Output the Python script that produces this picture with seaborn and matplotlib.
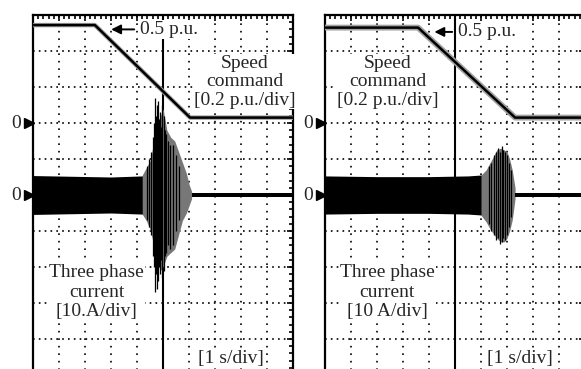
import numpy as np
import pandas as pd
import matplotlib
matplotlib.use('Agg')
import matplotlib.pyplot as plt
from matplotlib.ticker import MultipleLocator
import seaborn as sns

# speed command traces, time in s, speed in p.u.
left_speed_t = [0, 2.38, 6.04, 10]
left_speed = [0.544, 0.544, 0.03, 0.03]
right_speed_t = [0, 3.58, 7.31, 10]
right_speed = [0.53, 0.53, 0.03, 0.03]

# three phase current, steady envelope (A)
left_steady_t = [0, 1.5, 3.0, 4.2, 4.3]
left_steady_amp = [5.4, 5.2, 5.0, 5.3, 5.6]
right_steady_t = [0, 2.0, 4.0, 5.5, 6.1]
right_steady_amp = [5.3, 5.1, 5.1, 5.3, 5.6]

# current burst envelope while decelerating (A)
left_burst_t = [4.2, 4.35, 4.5, 4.6, 4.75, 4.9, 5.0, 5.15, 5.3, 5.45, 5.6, 5.75, 5.9, 6.0, 6.1]
left_burst_hi = [5.5, 7.5, 9.5, 13, 19, 22, 24, 18, 16, 15, 12, 9, 6, 3, 1]
left_burst_lo = [-5.3, -7, -9.5, -12.5, -18, -21, -20, -17, -16, -15, -11, -7, -5, -3, -1]
right_burst_t = [6.0, 6.2, 6.35, 6.5, 6.6, 6.75, 6.9, 7.0, 7.1, 7.2, 7.31]
right_burst_hi = [5.5, 7, 9, 11, 12.5, 13, 12.5, 12, 10, 7, 2]
right_burst_lo = [-5.6, -7.5, -9.5, -11, -12, -13, -13, -12, -10, -7, -1]

# individual current spikes (A)
left_spike_t = [4.4, 4.48, 4.55, 4.6, 4.65, 4.7, 4.74, 4.78, 4.82, 4.86, 4.9,
                4.94, 4.98, 5.02, 5.06, 5.12, 5.2, 5.28, 5.38, 5.5, 5.62]
left_spike_hi = [8, 10, 12, 16, 20, 27, 22, 25, 26, 21, 23,
                 19, 25, 22, 18, 17, 15, 14, 14, 11, 8]
left_spike_lo = [-7, -9, -11, -17, -20, -27, -22, -26, -24, -20, -22,
                 -18, -23, -21, -17, -16, -14, -15, -14, -10, -7]
right_spike_t = [6.3, 6.4, 6.5, 6.58, 6.66, 6.72, 6.8, 6.86, 6.93, 7.0, 7.08, 7.15]
right_spike_hi = [8, 9, 11, 12, 13, 12, 13.5, 12.5, 12, 11, 9, 7]
right_spike_lo = [-8, -10, -11, -12.5, -12, -13.5, -13, -12, -12.5, -11, -9, -6]

current_label = ["Three phase\ncurrent\n[10.A/div]", "Three phase\ncurrent\n[10 A/div]"]

sns.set_style('white')
plt.rcParams['font.family'] = ['Liberation Serif', 'DejaVu Serif']
plt.rcParams['font.size'] = 14

fig = plt.figure(figsize=(5.81, 3.69), dpi=100)
W, H = 581, 369
FS = 14


def panel_axes(x0):
    return fig.add_axes([x0 / W, 1 - 375 / H, 260 / W, 360 / H])


def speed_div(v):
    return 7 + np.asarray(v) / 0.2


def cur_div(v):
    return 5 + np.asarray(v) / 10


def draw_panel(ax, sp_t, sp, st_t, st_amp, b_t, b_hi, b_lo, s_t, s_hi, s_lo,
               noise, arrow_x, speed_xy, cur_xy, cur_text):
    ax.set_xlim(0, 10)
    ax.set_ylim(0, 10)
    ax.xaxis.set_major_locator(MultipleLocator(1))
    ax.yaxis.set_major_locator(MultipleLocator(1))
    ax.xaxis.set_minor_locator(MultipleLocator(0.2))
    ax.yaxis.set_minor_locator(MultipleLocator(0.2))
    ax.tick_params(which='both', direction='in', top=True, right=True,
                   labelbottom=False, labelleft=False, color='black', width=1.2)
    ax.tick_params(which='major', length=4)
    ax.tick_params(which='minor', length=3)
    ax.xaxis.grid(True, color='black', linewidth=1.2, linestyle=(0, (1, 3.5)))
    ax.yaxis.grid(True, color='black', linewidth=1.2, linestyle=(0, (1, 2.5)))
    for s in ax.spines.values():
        s.set_color('black')
        s.set_linewidth(1.6)
    ax.axvline(5, color='black', linewidth=1.5, zorder=2)
    ax.axhline(5, color='black', linewidth=1.0, zorder=2)

    # speed command
    df = pd.DataFrame({'t': sp_t, 'y': speed_div(sp)})
    sns.lineplot(data=df, x='t', y='y', ax=ax, color='#a0a0a0',
                 linewidth=noise, zorder=3)
    sns.lineplot(data=df, x='t', y='y', ax=ax, color='black',
                 linewidth=1.8, zorder=4)

    # current
    st_amp = np.asarray(st_amp)
    ax.fill_between(st_t, cur_div(st_amp), cur_div(-st_amp),
                    color='black', linewidth=0, zorder=3)
    ax.fill_between(b_t, cur_div(b_hi), cur_div(b_lo),
                    color='#777777', linewidth=0, zorder=3)
    ax.vlines(s_t, cur_div(s_lo), cur_div(s_hi), color='black',
              linewidth=0.9, zorder=4)
    tail_t = [b_t[-1], 10]
    ax.fill_between(tail_t, cur_div([0.6, 0.6]), cur_div([-0.6, -0.6]),
                    color='black', linewidth=0, zorder=3)

    # zero markers
    for yz in (speed_div(0), cur_div(0)):
        ax.plot(-0.17, yz, marker='>', color='black', markersize=7,
                clip_on=False, zorder=5)
        ax.text(-0.45, yz, '0', ha='right', va='center', fontsize=FS)

    # 0.5 p.u. arrow and labels
    lvl = speed_div(sp[0])
    ax.annotate('', xy=(arrow_x[0], lvl - 0.12), xytext=(arrow_x[1], lvl - 0.12),
                arrowprops=dict(arrowstyle='-|>', color='black', lw=1.4,
                                mutation_scale=14), zorder=6)
    ax.text(arrow_x[1] + 0.1, lvl - 0.12, '0.5 p.u.', ha='left', va='center',
            fontsize=FS, zorder=6,
            bbox=dict(facecolor='white', edgecolor='none', pad=0.5))
    ax.text(speed_xy[0], speed_xy[1], 'Speed\ncommand\n[0.2 p.u./div]',
            ha='center', va='center', fontsize=FS, linespacing=1.12, zorder=6,
            bbox=dict(facecolor='white', edgecolor='none', pad=0.5))
    ax.text(cur_xy[0], cur_xy[1], cur_text, ha='center', va='center',
            fontsize=FS, linespacing=1.2, zorder=6,
            bbox=dict(facecolor='white', edgecolor='none', pad=0.5))
    ax.text(speed_xy[2], 0.45, '[1 s/div]', ha='center', va='center',
            fontsize=FS, zorder=6,
            bbox=dict(facecolor='white', edgecolor='none', pad=0.5))
    ax.set_xlabel('')
    ax.set_ylabel('')


ax1 = panel_axes(33)
draw_panel(ax1, left_speed_t, left_speed, left_steady_t, left_steady_amp,
           left_burst_t, left_burst_hi, left_burst_lo,
           left_spike_t, left_spike_hi, left_spike_lo, 3.2,
           (2.9, 4.0), (8.15, 8.15, 7.6), (2.45, 2.3), current_label[0])

ax2 = panel_axes(325)
draw_panel(ax2, right_speed_t, right_speed, right_steady_t, right_steady_amp,
           right_burst_t, right_burst_hi, right_burst_lo,
           right_spike_t, right_spike_hi, right_spike_lo, 4.2,
           (4.1, 5.0), (2.4, 8.15, 7.5), (2.4, 2.3), current_label[1])

fig.savefig('out.png', dpi=100)
